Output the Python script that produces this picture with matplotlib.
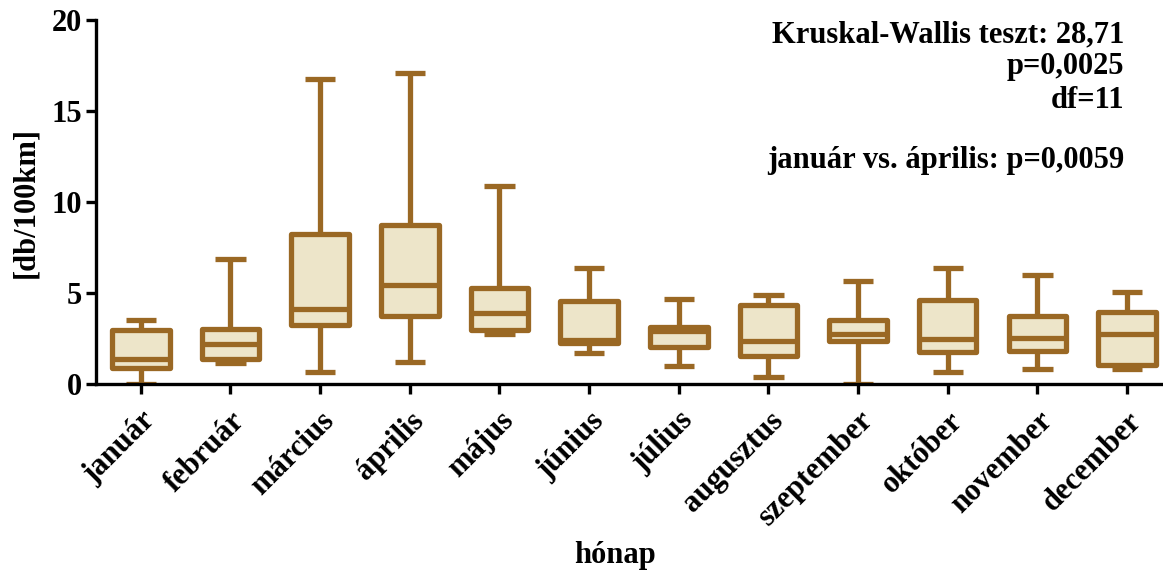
import matplotlib
matplotlib.use("Agg")
import matplotlib.pyplot as plt

months = ["január", "február", "március", "április", "május", "június",
          "július", "augusztus", "szeptember", "október", "november", "december"]
whis_low = [0.0, 1.15, 0.66, 1.19, 2.75, 1.70, 0.97, 0.36, 0.0, 0.66, 0.84, 0.84]
q1 = [0.88, 1.37, 3.26, 3.75, 2.98, 2.25, 2.01, 1.56, 2.34, 1.76, 1.83, 1.06]
median = [1.37, 2.20, 4.14, 5.46, 3.90, 2.43, 2.89, 2.34, 2.76, 2.49, 2.53, 2.75]
q3 = [2.98, 3.02, 8.26, 8.75, 5.27, 4.54, 3.13, 4.36, 3.53, 4.63, 3.75, 3.96]
whis_high = [3.53, 6.87, 16.77, 17.09, 10.90, 6.37, 4.67, 4.87, 5.68, 6.37, 5.97, 5.05]

stats_text = ["Kruskal-Wallis teszt: 28,71", "p=0,0025", "df=11", "január vs. április: p=0,0059"]
text_baselines_px = [42, 74, 108, 168]  # layout only

edge = "#9A6824"
fill = "#EDE5C9"

plt.rcParams['font.family'] = ['Liberation Serif', 'DejaVu Serif']
plt.rcParams['font.weight'] = 'bold'

W, H = 1163, 575
fig = plt.figure(figsize=(W / 100, H / 100), dpi=100)
ax = fig.add_axes([96 / W, (H - 384) / H, 1067 / W, 364 / H])

stats = []
for i in range(len(months)):
    stats.append(dict(med=median[i], q1=q1[i], q3=q3[i],
                      whislo=whis_low[i], whishi=whis_high[i], fliers=[]))

lw = 3.8
ax.bxp(stats, positions=range(1, len(months) + 1), widths=0.64,
       patch_artist=True, showfliers=False, capwidths=0.34,
       boxprops=dict(facecolor=fill, edgecolor=edge, linewidth=lw, joinstyle='round'),
       medianprops=dict(color=edge, linewidth=lw, solid_capstyle='butt'),
       whiskerprops=dict(color=edge, linewidth=lw, solid_capstyle='butt'),
       capprops=dict(color=edge, linewidth=lw, solid_capstyle='butt'))

ax.set_xlim(0.5, 12.4)
ax.set_ylim(0, 20)
ax.set_yticks([0, 5, 10, 15, 20])
ax.set_xticks(range(1, len(months) + 1))
ax.set_xticklabels(months, rotation=45, ha='right', rotation_mode='anchor',
                   fontsize=22, fontweight='bold')
for lab in ax.get_yticklabels():
    lab.set_fontsize(22)
    lab.set_fontweight('bold')

for s in ['top', 'right']:
    ax.spines[s].set_visible(False)
for s in ['left', 'bottom']:
    ax.spines[s].set_linewidth(2.4)
    ax.spines[s].set_color('black')
    ax.spines[s].set_zorder(5)
ax.tick_params(axis='both', width=2.4, length=7, color='black')
ax.tick_params(axis='x', pad=9)
ax.tick_params(axis='y', pad=3)

ax.set_ylabel("[db/100km]", fontsize=22, fontweight='bold', labelpad=8)
ax.set_xlabel("hónap", fontsize=22, fontweight='bold')
# place x label by figure pixel position (center ~615, 555)
ax.xaxis.set_label_coords((615 - 96) / 1067, -(555 - 384) / 364)
ax.xaxis.label.set_va('center')

for line, yb in zip(stats_text, text_baselines_px):
    fig.text(1124 / W, 1 - yb / H, line, ha='right', va='baseline',
             fontsize=22, fontweight='bold')

fig.savefig("out.png", dpi=100)
